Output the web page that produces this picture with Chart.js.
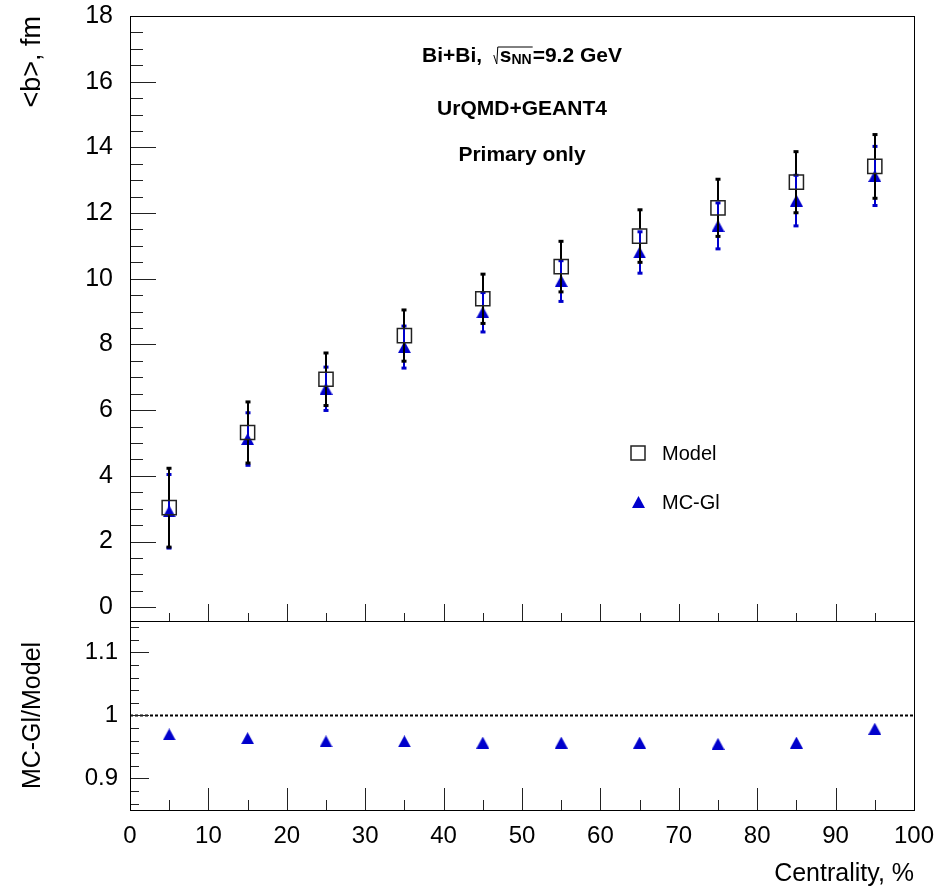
<!DOCTYPE html>
<html>
<head>
<meta charset="utf-8">
<script src="https://cdn.jsdelivr.net/npm/chart.js"></script>
<style>
  html, body { margin: 0; padding: 0; background: #fff; }
  #wrap { position: relative; width: 946px; height: 890px; }
  canvas { position: absolute; left: 0; }
  #topChart { top: 0; }
  #ratioChart { top: 600px; }
</style>
</head>
<body>
<div id="wrap">
  <canvas id="topChart" width="946" height="640"></canvas>
  <canvas id="ratioChart" width="946" height="290"></canvas>
</div>
<script>
// centrality bins (bin centres, %)
const CENTRALITY = [5, 15, 25, 35, 45, 55, 65, 75, 85, 95];

// <b> from the model fit and its spread
const MODEL_B = [3.03, 5.32, 6.94, 8.27, 9.39, 10.37, 11.30, 12.16, 12.94, 13.42];
const MODEL_ERR = [1.20, 0.93, 0.80, 0.78, 0.75, 0.77, 0.80, 0.87, 0.93, 0.97];

// <b> from MC-Glauber
const MCGL_B = [2.92, 5.12, 6.65, 7.92, 8.98, 9.93, 10.80, 11.61, 12.38, 13.13];
const MCGL_ERR = [1.12, 0.80, 0.66, 0.64, 0.60, 0.62, 0.63, 0.70, 0.77, 0.90];

// MC-Gl / Model
const RATIO = [0.970, 0.964, 0.959, 0.959, 0.957, 0.957, 0.957, 0.955, 0.957, 0.979];
const UNITY_X = [0, 100];
const UNITY_Y = [1, 1];

// axis ticks
const X_TICKS = [0, 10, 20, 30, 40, 50, 60, 70, 80, 90, 100];
const B_TICKS = [0, 2, 4, 6, 8, 10, 12, 14, 16, 18];
const RATIO_TICKS = [0.9, 1, 1.1];

const SERIES_LABELS = ["Model", "MC-Gl"];
const HEADER_LINES = ["UrQMD+GEANT4", "Primary only"];

const FONT = "'Liberation Sans', Arial, Helvetica, sans-serif";
const BLUE = "#0000cc";

Chart.defaults.font.family = FONT;
Chart.defaults.color = "#000";

// filled triangle marker, bounding box centred on the point
const makeTriangle = (w, h, color) => {
  const c = document.createElement("canvas");
  c.width = w;
  c.height = h;
  const g = c.getContext("2d");
  g.fillStyle = color;
  g.beginPath();
  g.moveTo(w / 2, 0);
  g.lineTo(w, h);
  g.lineTo(0, h);
  g.closePath();
  g.fill();
  return c;
};
const TRIANGLE = makeTriangle(13, 12, BLUE);

const toPoints = (xs, ys) => xs.map((x, i) => ({ x, y: ys[i] }));

// fixed axis box, no extra room asked for the edge labels
const fixWidth = (w) => (s) => {
  s.width = w;
  s.paddingTop = 0;
  s.paddingBottom = 0;
};
const fixHeight = (h) => (s) => {
  s.height = h;
  s.paddingLeft = 0;
  s.paddingRight = 0;
};

// inward ROOT-style ticks plus the frame
const framePlugin = (o) => ({
  id: "frame",
  afterDraw(chart) {
    const { ctx, chartArea: a, scales } = chart;
    const x = scales.x, y = scales.y;
    ctx.save();
    ctx.strokeStyle = "#222";
    ctx.lineWidth = 1;
    ctx.beginPath();
    const isMajor = (v, step) => Math.abs(v / step - Math.round(v / step)) < 1e-6;
    for (let n = Math.ceil(y.min / o.yMinor - 1e-6); n <= Math.floor(y.max / o.yMinor + 1e-6); n++) {
      const v = n * o.yMinor;
      const py = Math.round(y.getPixelForValue(v)) + 0.5;
      ctx.moveTo(a.left, py);
      ctx.lineTo(a.left + (isMajor(v, o.yMajor) ? o.yMajorLen : o.yMinorLen), py);
    }
    for (let n = Math.ceil(x.min / o.xMinor); n <= Math.floor(x.max / o.xMinor); n++) {
      const v = n * o.xMinor;
      const px = Math.round(x.getPixelForValue(v)) + 0.5;
      ctx.moveTo(px, a.bottom);
      ctx.lineTo(px, a.bottom - (isMajor(v, o.xMajor) ? o.xMajorLen : o.xMinorLen));
    }
    ctx.stroke();
    ctx.strokeStyle = "#000";
    ctx.strokeRect(Math.round(a.left) + 0.5, Math.round(a.top) + 0.5,
      Math.round(a.right - a.left), Math.round(a.bottom - a.top));
    ctx.restore();
  },
});

// vertical error bars with small end caps, drawn just before each dataset
const errorBars = {
  id: "errorBars",
  beforeDatasetDraw(chart, args) {
    const ds = chart.data.datasets[args.index];
    if (!ds.errors) return;
    const { ctx } = chart;
    const y = chart.scales.y;
    ctx.save();
    ctx.strokeStyle = ds.errorColor;
    ctx.fillStyle = ds.errorColor;
    ctx.lineWidth = 2;
    args.meta.data.forEach((pt, i) => {
      const v = ds.data[i].y;
      const e = ds.errors[i];
      const px = Math.round(pt.x);
      const hi = y.getPixelForValue(v + e);
      const lo = y.getPixelForValue(v - e);
      ctx.beginPath();
      ctx.moveTo(px, hi);
      ctx.lineTo(px, pt.y - ds.errorGap);
      ctx.moveTo(px, pt.y + ds.errorGap);
      ctx.lineTo(px, lo);
      ctx.stroke();
      ctx.fillRect(px - 2.5, hi - 1.5, 5, 3);
      ctx.fillRect(px - 2.5, lo - 1.5, 5, 3);
    });
    ctx.restore();
  },
};

// header text and in-frame legend of the upper pad
const annotations = {
  id: "annotations",
  afterDraw(chart) {
    const { ctx } = chart;
    const cx = 522;
    ctx.save();
    ctx.fillStyle = "#000";
    ctx.strokeStyle = "#000";
    ctx.textBaseline = "alphabetic";

    // Bi+Bi, sqrt(s_NN)=9.2 GeV
    const big = "bold 21px " + FONT, small = "bold 14px " + FONT;
    const pre = "Bi+Bi,  ", s = "s", post = "=9.2 GeV";
    ctx.font = big;
    const wPre = ctx.measureText(pre).width;
    const wS = ctx.measureText(s).width;
    const wPost = ctx.measureText(post).width;
    ctx.font = small;
    const wNN = ctx.measureText("NN").width;
    const wRad = 6;
    const base = 62;
    let x = cx - (wPre + wRad + wS + wNN + wPost + 1) / 2;
    ctx.font = big;
    ctx.textAlign = "left";
    ctx.fillText(pre, x, base);
    x += wPre;
    ctx.lineWidth = 1;
    ctx.beginPath();
    ctx.moveTo(x, base - 7);
    ctx.lineTo(x + 3, base + 2);
    ctx.lineTo(x + 4, base - 15);
    ctx.lineTo(x + wRad + wS + wNN + 1, base - 15);
    ctx.stroke();
    x += wRad;
    ctx.fillText(s, x, base);
    x += wS;
    ctx.font = small;
    ctx.fillText("NN", x, base + 2);
    x += wNN + 1;
    ctx.font = big;
    ctx.fillText(post, x, base);

    ctx.textAlign = "center";
    ctx.fillText(HEADER_LINES[0], cx, 114.5);
    ctx.fillText(HEADER_LINES[1], cx, 160.5);

    // legend
    const lx = 638;
    const rows = [453, 502];
    ctx.lineWidth = 1.5;
    ctx.strokeStyle = "#222";
    ctx.strokeRect(lx - 7, rows[0] - 7, 14, 14);
    ctx.drawImage(TRIANGLE, Math.round(lx - 6.5), rows[1] - 6);
    ctx.font = "20px " + FONT;
    ctx.textAlign = "left";
    ctx.textBaseline = "middle";
    chart.data.datasets.forEach((ds, i) => {
      ctx.fillText(ds.label, 662, rows[i] + 1);
    });
    ctx.restore();
  },
};

const fixedTicks = (list) => (scale) => {
  scale.ticks = list.map((v) => ({ value: v }));
};

new Chart(document.getElementById("topChart"), {
  type: "scatter",
  data: {
    datasets: [
      {
        label: SERIES_LABELS[0],
        data: toPoints(CENTRALITY, MODEL_B),
        errors: MODEL_ERR,
        errorColor: "#000",
        errorGap: 7,
        pointStyle: "rect",
        pointRadius: 10,
        borderWidth: 1.5,
        borderColor: "#222",
        backgroundColor: "rgba(0,0,0,0)",
      },
      {
        label: SERIES_LABELS[1],
        data: toPoints(CENTRALITY, MCGL_B),
        errors: MCGL_ERR,
        errorColor: BLUE,
        errorGap: 0,
        pointStyle: TRIANGLE,
        pointRadius: 6,
      },
    ],
  },
  options: {
    responsive: false,
    animation: false,
    events: [],
    layout: { padding: { top: 16, right: 32, bottom: 19, left: 0 } },
    plugins: { legend: { display: false }, tooltip: { enabled: false } },
    scales: {
      x: { type: "linear", min: 0, max: 100, display: false },
      y: {
        min: -0.42,
        max: 18,
        afterFit: fixWidth(130),
        afterBuildTicks: fixedTicks(B_TICKS),
        grid: { display: false, drawTicks: false },
        border: { display: false },
        ticks: { padding: 17, font: { size: 25 }, callback: (v) => String(v) },
        title: {
          display: true,
          text: "<b>, fm",
          align: "end",
          padding: { top: 16 },
          font: { size: 27 },
        },
      },
    },
  },
  plugins: [
    errorBars,
    annotations,
    framePlugin({ yMajor: 2, yMinor: 0.5, yMajorLen: 26, yMinorLen: 13, xMajor: 10, xMinor: 5, xMajorLen: 17, xMinorLen: 8 }),
  ],
});

new Chart(document.getElementById("ratioChart"), {
  type: "scatter",
  data: {
    datasets: [
      {
        label: "MC-Gl/Model",
        data: toPoints(CENTRALITY, RATIO),
        pointStyle: TRIANGLE,
        pointRadius: 6,
      },
      {
        label: "unity",
        data: toPoints(UNITY_X, UNITY_Y),
        showLine: true,
        borderColor: "#000",
        borderWidth: 2,
        borderDash: [3, 2],
        pointRadius: 0,
      },
    ],
  },
  options: {
    responsive: false,
    animation: false,
    events: [],
    layout: { padding: { top: 21, right: 32, bottom: 0, left: 0 } },
    plugins: { legend: { display: false }, tooltip: { enabled: false } },
    scales: {
      x: {
        type: "linear",
        min: 0,
        max: 100,
        afterFit: fixHeight(80),
        afterBuildTicks: fixedTicks(X_TICKS),
        grid: { display: false, drawTicks: false },
        border: { display: false },
        ticks: { padding: 12, maxRotation: 0, autoSkip: false, font: { size: 24 }, callback: (v) => String(v) },
        title: {
          display: true,
          text: "Centrality, %",
          align: "end",
          padding: { top: 0, bottom: 1 },
          font: { size: 25 },
        },
      },
      y: {
        min: 0.85,
        max: 1.15,
        afterFit: fixWidth(130),
        afterBuildTicks: fixedTicks(RATIO_TICKS),
        grid: { display: false, drawTicks: false },
        border: { display: false },
        ticks: { padding: 12, font: { size: 24 }, callback: (v) => String(v) },
        title: {
          display: true,
          text: "MC-Gl/Model",
          padding: { top: 18 },
          font: { size: 25 },
        },
      },
    },
  },
  plugins: [
    framePlugin({ yMajor: 0.1, yMinor: 0.02, yMajorLen: 19, yMinorLen: 9, xMajor: 10, xMinor: 5, xMajorLen: 22, xMinorLen: 10 }),
  ],
});
</script>
</body>
</html>
